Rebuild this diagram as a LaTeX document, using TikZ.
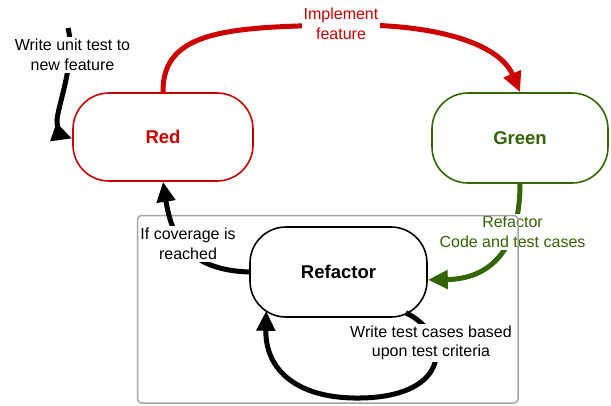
\documentclass[tikz,border=0pt]{standalone}
\usepackage{fontspec}
\setmainfont{Liberation Sans}
\usetikzlibrary{arrows.meta}

\definecolor{tddred}{RGB}{204,0,0}
\definecolor{tddgreen}{RGB}{51,102,0}
\definecolor{framegray}{RGB}{165,165,165}

\tikzset{
  stateshape/.style={draw, fill=white, line width=1.6pt, rounded corners=36pt,
    inner sep=0pt, font=\bfseries\fontsize{18.5}{22}\selectfont},
  arr/.style={line width=5pt, -{Triangle[length=20pt,width=18pt]}},
  lbl/.style={font=\fontsize{16}{19.5}\selectfont, align=center, fill=white, inner sep=2pt},
  framebox/.style={draw=framegray, line width=1.5pt, rounded corners=4pt, inner sep=0pt}
}

\begin{document}
\begin{tikzpicture}[x=1pt,y=-1pt]
\useasboundingbox (0,0) rectangle (611,405);

% the three states
\node[stateshape, draw=tddred, text=tddred, minimum width=180pt, minimum height=88pt] (red) at (163,137) {Red};
\node[stateshape, draw=tddgreen, text=tddgreen, minimum width=176pt, minimum height=90pt] (green) at (520,138) {Green};
\node[stateshape, draw=black, text=black, minimum width=177pt, minimum height=90pt] (refactor) at (338.5,272) {Refactor};

% start of the incoming transition
\coordinate (wstart) at (68,28);

% transitions
\draw[arr, tddred] (red.north) .. controls (162,30) and (230,27) .. (340,25)
  .. controls (440,23) and (500,45) .. (green.north);
\draw[arr] (wstart) .. controls (76,60) and (58,105) .. (57,120)
  .. controls (57,130) and (62,135) .. ([yshift=-1.5]red.west);
\draw[arr, tddgreen] (green.south) .. controls (520,250) and (490,279) .. (refactor.-5);
\draw[arr] ([shift={(-22,-5)}]refactor.south east) .. controls (452,335) and (452,397) .. (360,398)
  .. controls (300,399) and (265,372) .. ([shift={(17,-7)}]refactor.south west);

% transition labels
\node[lbl, text=tddred] (implbl) at (341,24) {Implement\\feature};
\node[lbl] (wlbl) at (72.5,55) {Write unit test to\\new feature};
\node[lbl, text=tddgreen] (glbl) at (512.5,232) {Refactor\\Code and test cases};
\node[lbl] (looplbl) at (431,343) {Write test cases based\\upon test criteria};

% refactoring frame
\node[framebox, minimum width=380.5pt, minimum height=187.5pt] (frame) at (327.75,309.25) {};

% leaving the refactoring loop
\draw[arr] (refactor.west) .. controls (190,270) and (172,240) .. (red.south);
\node[lbl, inner xsep=0.5pt] (covlbl) at (188,244) {If coverage is\\reached};
\end{tikzpicture}
\end{document}
